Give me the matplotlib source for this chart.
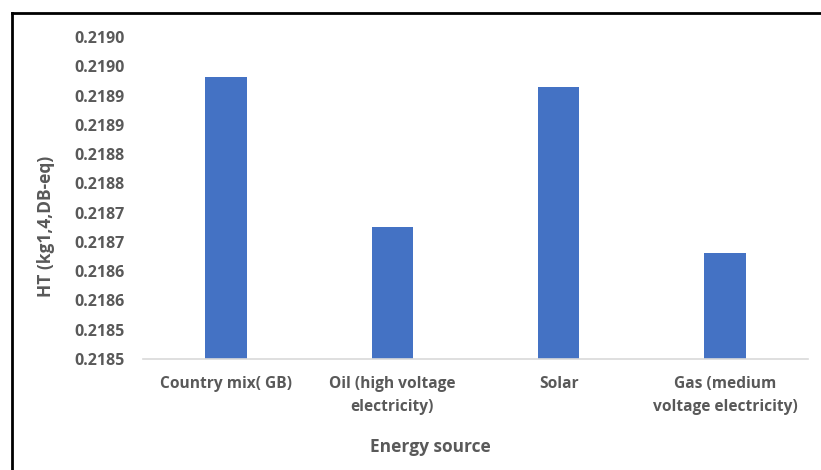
import numpy as np
import matplotlib.pyplot as plt
from matplotlib.lines import Line2D

# Chart data
categories = ['Country mix( GB)', 'Oil (high voltage\nelectricity)', 'Solar',
              'Gas (medium\nvoltage electricity)']
values = [0.218981, 0.218726, 0.218965, 0.218681]
y_ticks = [0.2185, 0.21855, 0.2186, 0.21865, 0.2187, 0.21875,
           0.2188, 0.21885, 0.2189, 0.21895, 0.2190, 0.21905]
y_tick_labels = ['0.2185', '0.2185', '0.2186', '0.2186', '0.2187', '0.2187',
                 '0.2188', '0.2188', '0.2189', '0.2189', '0.2190', '0.2190']

text_color = '#595959'
plt.rcParams['font.family'] = ['Open Sans', 'DejaVu Sans']

fig = plt.figure(figsize=(8.21, 4.70), dpi=100)
ax = fig.add_axes([143 / 821, 1 - 359 / 470, 665 / 821, (359 - 37) / 470])

x = np.arange(len(categories))
ax.bar(x, values, width=0.25, color='#4472C4')

ax.set_xlim(-0.5, len(categories) - 0.5)
ax.set_ylim(y_ticks[0], y_ticks[-1])
ax.set_yticks(y_ticks)
ax.set_yticklabels(y_tick_labels, fontsize=11.5, fontweight='bold', color=text_color)
ax.set_xticks(x)
ax.set_xticklabels(categories, fontsize=11.2, fontweight='bold', color=text_color,
                   linespacing=1.6, va='top')
ax.tick_params(axis='both', length=0)
ax.tick_params(axis='x', pad=12)
ax.tick_params(axis='y', pad=13)

for side in ['top', 'right', 'left']:
    ax.spines[side].set_visible(False)
ax.spines['bottom'].set_color('#D9D9D9')
ax.spines['bottom'].set_linewidth(1.2)

ax.set_xlabel('Energy source', fontsize=12.5, fontweight='bold', color=text_color)
ax.xaxis.set_label_coords(0.432, -(447 - 359) / 322, transform=ax.transAxes)
ax.xaxis.label.set_va('center')
ax.set_ylabel('HT (kg1,4,DB-eq)', fontsize=12.5, fontweight='bold', color=text_color)
ax.yaxis.set_label_coords(-(143 - 46) / 665, (359 - 226) / 322, transform=ax.transAxes)
ax.yaxis.label.set_va('center')

# Outer black frame (left and top edges visible)
fig.add_artist(Line2D([11.5 / 821, 11.5 / 821], [0, 1 - 12.5 / 470], color='black', lw=2))
fig.add_artist(Line2D([11.5 / 821, 1], [1 - 12.5 / 470, 1 - 12.5 / 470], color='black', lw=2))

plt.savefig('out.png', dpi=100)
plt.close()
